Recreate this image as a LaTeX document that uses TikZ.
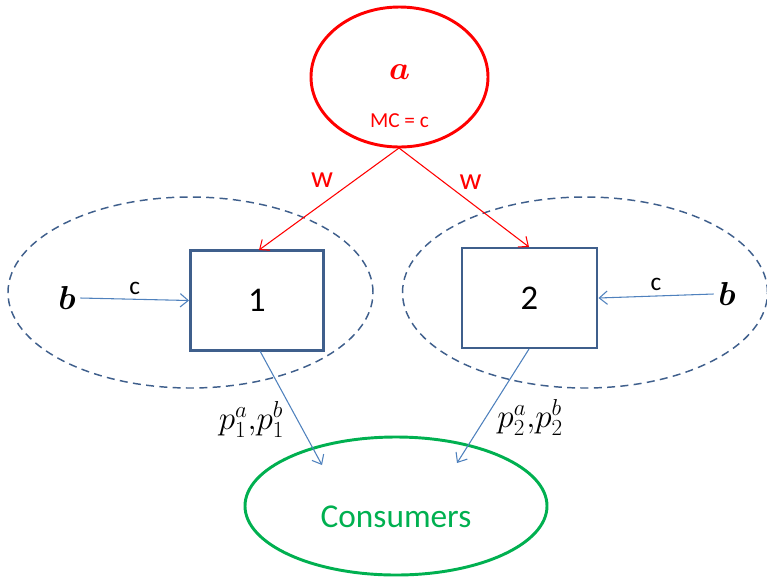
\documentclass[tikz,border=0pt]{standalone}
\usepackage{amsmath,amssymb}
\usepackage{fontspec}
\setmainfont{Carlito}
\usetikzlibrary{arrows.meta,shapes.geometric,positioning}
\definecolor{boxblue}{HTML}{3F5F8C}
\definecolor{lineblue}{HTML}{4F81BD}
\definecolor{consgreen}{HTML}{00B050}

\begin{document}
\begin{tikzpicture}[x=0.75pt,y=-0.75pt,
	firm/.style={draw=boxblue,line width=2.2pt,minimum width=99.75pt,minimum height=75pt,inner sep=0pt,font=\fontsize{26}{30}\selectfont},
	market/.style={draw=boxblue,dash pattern=on 6pt off 4pt,line width=1.1pt,ellipse,minimum width=273.75pt,minimum height=143.25pt,inner sep=0pt},
	tip/.style={-{Straight Barb[length=6pt,width=10pt]}}]
\useasboundingbox (0,0) rectangle (767,576);

\node[ellipse,draw=red,line width=2.2pt,minimum width=132.75pt,minimum height=105pt,inner sep=0pt] (a) at (399.5,77){};
\node[red,font=\fontsize{25}{29}\selectfont] (alab) at (399.5,72){$\boldsymbol{a}$};
\node[red,font=\fontsize{16}{19}\selectfont] (mc) at (399.5,121){MC = c};

\node[market] (m1) at (190.5,292.5){};
\node[market] (m2) at (585,292.5){};

\node[firm] (f1) at (257,300.5){1};
\node[firm,minimum width=101.25pt] (f2) at (529.5,298){2};

\node[font=\fontsize{25}{29}\selectfont] (b1) at (67,298){$\boldsymbol{b}$};
\node[font=\fontsize{25}{29}\selectfont] (b2) at (727,294){$\boldsymbol{b}$};

\node[ellipse,draw=consgreen,line width=2.2pt,minimum width=226.5pt,minimum height=103.5pt,inner sep=0pt] (cons) at (396,506){};
\node[text=consgreen,font=\fontsize{25}{29}\selectfont] (clab) at (396,517){Consumers};

\coordinate (top) at (399,148);
\coordinate (in1) at (259,250);
\coordinate (in2) at (529,247);
\coordinate (out1) at (260,351);
\coordinate (out2) at (529,349);
\coordinate (c1) at (322,465);
\coordinate (c2) at (457,463);

\begin{scope}[every node/.style={font=\fontsize{23}{27}\selectfont}]
%wholesale
\draw[red,line width=0.8pt,tip] (top) -- node[red,pos=0.55,above=9pt]{w} (in1);
\draw[red,line width=0.8pt,tip] (top) -- node[red,pos=0.55,above=6pt]{w} (in2);
%inputs
\draw[lineblue,line width=0.8pt,tip] (b1.east) -- node[black,above,font=\fontsize{19}{22}\selectfont]{c} (f1.west);
\draw[lineblue,line width=0.8pt,tip] (b2.west) -- node[black,above,font=\fontsize{19}{22}\selectfont]{c} (f2.east);
%prices
\draw[lineblue,line width=0.8pt,tip] (out1) -- node[black,pos=0.6,left=6pt,font=\fontsize{23}{27}\selectfont]{$p_1^a{,}p_1^b$} (c1);
\draw[lineblue,line width=0.8pt,tip] (out2) -- node[black,pos=0.6,right=5pt,font=\fontsize{23}{27}\selectfont]{$p_2^a{,}p_2^b$} (c2);
\end{scope}
\end{tikzpicture}
\end{document}
